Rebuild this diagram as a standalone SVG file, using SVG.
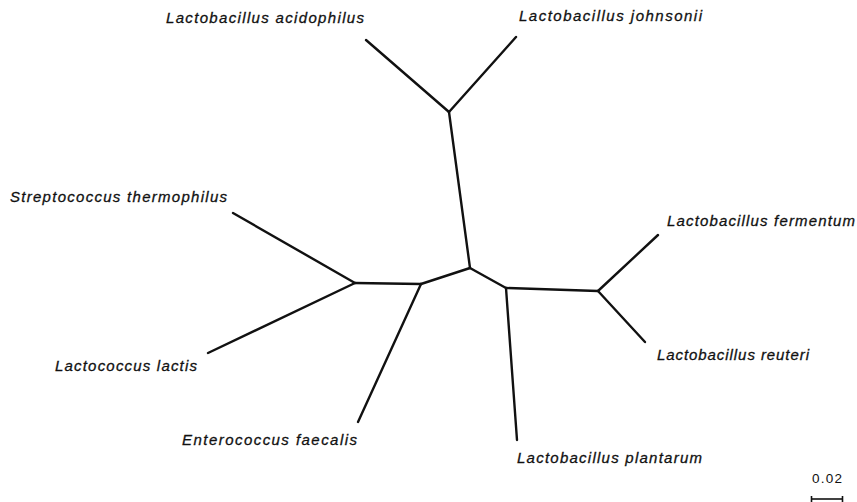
<svg xmlns="http://www.w3.org/2000/svg" width="857" height="502" viewBox="0 0 857 502">
<style>
.lbl{font-family:"Liberation Sans",Arial,sans-serif;font-style:italic;font-size:15px;fill:#111;stroke:#111;stroke-width:0.3}
.br{stroke:#111;stroke-width:2.4;stroke-linecap:round;fill:none}
.sc{font-family:"Liberation Sans",Arial,sans-serif;font-size:13.5px;fill:#111}
</style>
<rect width="857" height="502" fill="#fff"/>
<g id="connectors">
<line class="br" x1="449" y1="112" x2="366" y2="40"/>
<line class="br" x1="449" y1="112" x2="516" y2="37"/>
<line class="br" x1="449" y1="112" x2="470" y2="268"/>
<line class="br" x1="470" y1="268" x2="421" y2="284"/>
<line class="br" x1="421" y1="284" x2="355" y2="283"/>
<line class="br" x1="355" y1="283" x2="233" y2="213"/>
<line class="br" x1="355" y1="283" x2="208" y2="353"/>
<line class="br" x1="421" y1="284" x2="358" y2="422"/>
<line class="br" x1="470" y1="268" x2="506" y2="288"/>
<line class="br" x1="506" y1="288" x2="517" y2="440"/>
<line class="br" x1="506" y1="288" x2="598" y2="291"/>
<line class="br" x1="598" y1="291" x2="658" y2="235"/>
<line class="br" x1="598" y1="291" x2="645" y2="342"/>
</g>
<g id="node-acidophilus"><text class="lbl" x="166" y="23" textLength="198" lengthAdjust="spacing">Lactobacillus acidophilus</text></g>
<g id="node-johnsonii"><text class="lbl" x="519" y="21" textLength="183" lengthAdjust="spacing">Lactobacillus johnsonii</text></g>
<g id="node-thermophilus"><text class="lbl" x="10" y="202" textLength="217" lengthAdjust="spacing">Streptococcus thermophilus</text></g>
<g id="node-fermentum"><text class="lbl" x="667" y="226" textLength="188" lengthAdjust="spacing">Lactobacillus fermentum</text></g>
<g id="node-reuteri"><text class="lbl" x="657" y="360" textLength="152" lengthAdjust="spacing">Lactobacillus reuteri</text></g>
<g id="node-lactis"><text class="lbl" x="55" y="371" textLength="142" lengthAdjust="spacing">Lactococcus lactis</text></g>
<g id="node-faecalis"><text class="lbl" x="182" y="445" textLength="175" lengthAdjust="spacing">Enterococcus faecalis</text></g>
<g id="node-plantarum"><text class="lbl" x="517" y="463" textLength="185" lengthAdjust="spacing">Lactobacillus plantarum</text></g>
<g id="scale">
<text class="sc" x="812" y="483" textLength="30" lengthAdjust="spacing">0.02</text>
<line x1="811" y1="499" x2="843" y2="499" stroke="#111" stroke-width="1.6"/>
<line x1="811.5" y1="496" x2="811.5" y2="502" stroke="#111" stroke-width="1.6"/>
<line x1="842.5" y1="496" x2="842.5" y2="502" stroke="#111" stroke-width="1.6"/>
</g>
</svg>
